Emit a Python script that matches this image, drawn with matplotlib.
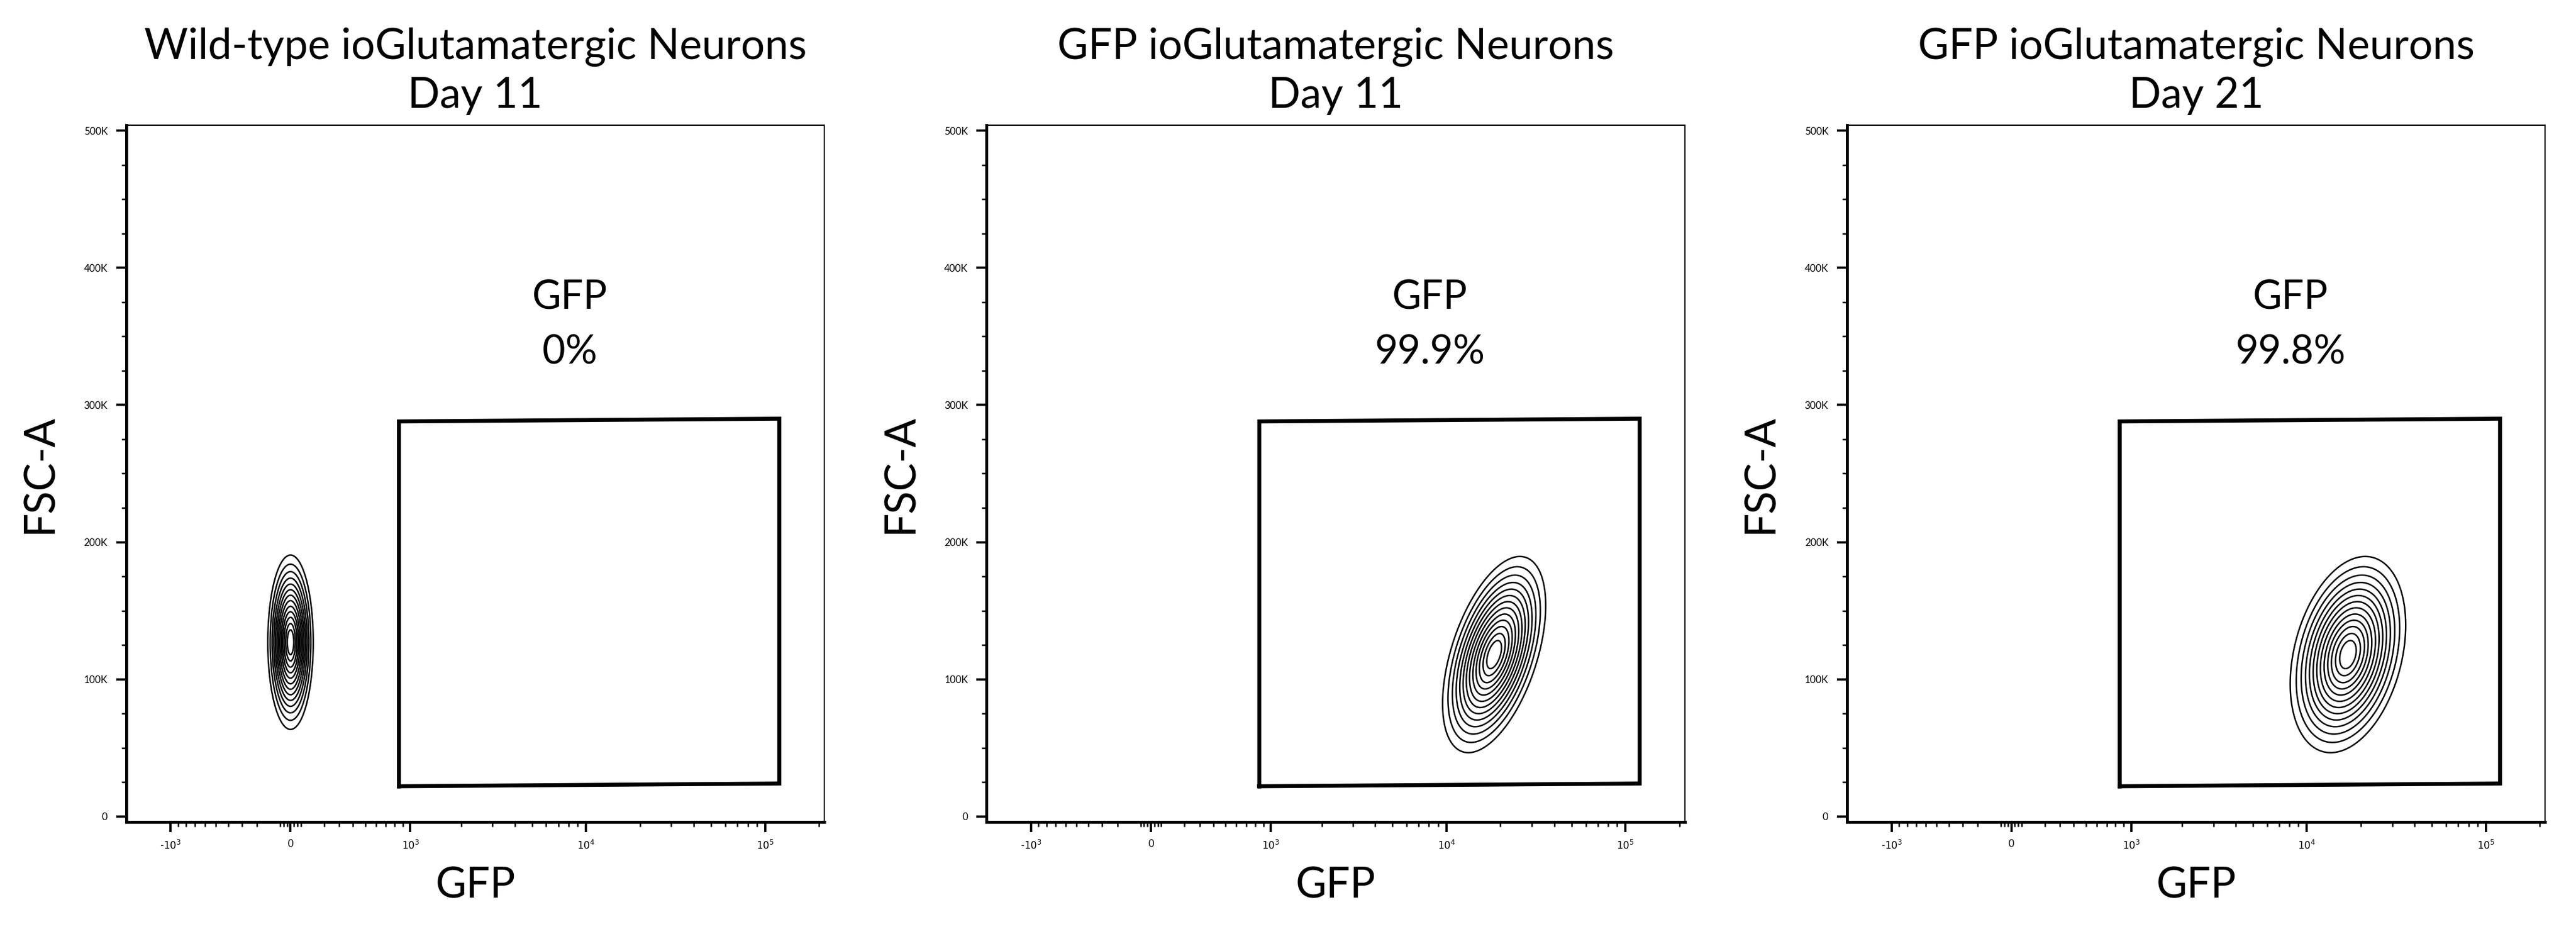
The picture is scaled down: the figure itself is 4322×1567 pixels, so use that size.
import numpy as np
import matplotlib
matplotlib.use("Agg")
import matplotlib.pyplot as plt
from matplotlib.ticker import FixedLocator, FixedFormatter

plt.rcParams['font.family'] = ['Lato', 'DejaVu Sans']

titles = ["Wild-type ioGlutamatergic Neurons\nDay 11",
          "GFP ioGlutamatergic Neurons\nDay 11",
          "GFP ioGlutamatergic Neurons\nDay 21"]
gate_pct = ["0%", "99.9%", "99.8%"]
# population parameters: centre GFP, centre FSC-A, spread (asinh units), spread FSC, correlation
pop_gfp = [0, 18500, 17000]
pop_fsc = [127000, 118000, 118000]
pop_sx = [0.11, 0.25, 0.28]
pop_sy = [24000, 27000, 27000]
pop_rho = [0.0, 0.5, 0.3]
# gate polygon (GFP, FSC-A)
gate_x = [850, 850, 120000, 120000]
gate_y = [22000, 288000, 290000, 24000]
levels_frac = [0.03, 0.06, 0.1, 0.15, 0.21, 0.28, 0.36, 0.45, 0.55, 0.65, 0.75, 0.85, 0.93]

C = 450.0
fwd = lambda v: np.arcsinh(np.asarray(v, float) / C)
inv = lambda u: C * np.sinh(np.asarray(u, float))

fig = plt.figure(figsize=(4322/300, 1567/300), dpi=300)
lefts = [0.049, 0.383, 0.717]
for i in range(3):
    ax = fig.add_axes([lefts[i], 0.120, 0.271, 0.746])
    ax.set_xscale('function', functions=(fwd, inv))
    ax.set_xlim(-1830, 214000)
    ax.set_ylim(-4000, 504000)
    u = np.linspace(-1.5, 6.5, 500)
    yy = np.linspace(0, 300000, 500)
    U, Y = np.meshgrid(u, yy)
    du = (U - fwd(pop_gfp[i])) / pop_sx[i]
    dy = (Y - pop_fsc[i]) / pop_sy[i]
    r = pop_rho[i]
    Z = np.exp(-(du**2 - 2*r*du*dy + dy**2) / (2*(1 - r**2)))
    ax.contour(inv(U), Y, Z, levels=levels_frac, colors='black', linewidths=0.6)
    gx = gate_x + [gate_x[0]]
    gy = gate_y + [gate_y[0]]
    ax.plot(gx, gy, color='black', lw=1.6, solid_joinstyle='miter')
    ax.text(8120, 378000, "GFP", ha='center', va='center', fontsize=16)
    ax.text(8120, 338000, gate_pct[i], ha='center', va='center', fontsize=16)
    ax.set_title(titles[i], fontsize=17, pad=7, linespacing=1.3)
    ax.set_xlabel("GFP", fontsize=17, labelpad=6)
    ax.set_ylabel("FSC-A", fontsize=17, labelpad=10)
    ax.xaxis.set_major_locator(FixedLocator([-1000, 0, 1000, 10000, 100000]))
    ax.xaxis.set_major_formatter(FixedFormatter([r"-$10^3$", "0", r"$10^3$", r"$10^4$", r"$10^5$"]))
    minors = [-k*100 for k in range(2, 10)] + [-60, -40, -20, 20, 40, 60] + \
             [k*100 for k in range(2, 10)] + [k*1000 for k in range(2, 10)] + \
             [k*10000 for k in range(2, 10)] + [200000]
    ax.xaxis.set_minor_locator(FixedLocator(minors))
    ax.yaxis.set_major_locator(FixedLocator([0, 100000, 200000, 300000, 400000, 500000]))
    ax.yaxis.set_major_formatter(FixedFormatter(["0", "100K", "200K", "300K", "400K", "500K"]))
    ax.yaxis.set_minor_locator(FixedLocator([k*25000 for k in range(1, 20) if k % 4]))
    ax.tick_params(axis='both', which='major', labelsize=4, length=4, width=0.9, direction='out')
    ax.tick_params(axis='both', which='minor', length=2, width=0.6, direction='out')
    ax.tick_params(axis='x', pad=3)
    for s in ['left', 'bottom']:
        ax.spines[s].set_linewidth(1.2)
    for s in ['top', 'right']:
        ax.spines[s].set_linewidth(0.5)

fig.savefig("out.png", dpi=300)
